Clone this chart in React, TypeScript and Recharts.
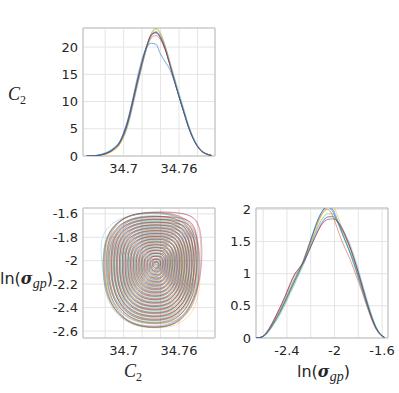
import React from 'react';
import { LineChart, Line, XAxis, YAxis, CartesianGrid, ReferenceArea } from 'recharts';

// MATLAB default colour order, one per MCMC chain
const chainColors = ['#0072BD', '#D95319', '#EDB120', '#7E2F8E', '#77AC30', '#4DBEEE', '#A2142F', '#0072BD'];

// ---- C2 marginal density (top left) ----
const c2Grid = [34.66, 34.665, 34.67, 34.675, 34.68, 34.685, 34.69, 34.695, 34.7, 34.705, 34.71, 34.715, 34.72, 34.725,
  34.73, 34.735, 34.74, 34.745, 34.75, 34.755, 34.76, 34.765, 34.77, 34.775, 34.78, 34.785, 34.79, 34.795];
const c2Chain1 = [0, 0.03, 0.08, 0.22, 0.45, 0.85, 1.5, 2.4, 4.2, 6.8, 10.3, 13.9, 17.2, 20.1, 22.2, 22.7, 21.7, 19.7, 16.8, 13.9, 10.9, 8.2, 5.5, 3.4, 1.8, 0.8, 0.35, 0.12];
const c2Chain2 = [0, 0.02, 0.05, 0.15, 0.35, 0.7, 1.3, 2.1, 3.8, 6.3, 9.8, 13.4, 16.8, 19.8, 21.7, 22.1, 21.3, 19.5, 16.9, 14.0, 11.1, 8.4, 5.7, 3.5, 1.9, 0.9, 0.4, 0.15];
const c2Chain3 = [0, 0.01, 0.04, 0.12, 0.3, 0.6, 1.1, 1.9, 3.5, 5.9, 9.4, 13.1, 16.7, 20.0, 22.6, 23.5, 22.6, 20.3, 17.3, 14.2, 11.3, 8.5, 5.7, 3.5, 1.9, 0.9, 0.4, 0.15];
const c2Chain4 = [0, 0.02, 0.06, 0.2, 0.4, 0.8, 1.4, 2.3, 4.1, 6.6, 10.1, 13.8, 17.2, 20.3, 22.3, 22.8, 21.8, 19.8, 16.9, 13.9, 10.9, 8.1, 5.4, 3.3, 1.8, 0.8, 0.35, 0.12];
const c2Chain5 = [0, 0.02, 0.05, 0.16, 0.35, 0.7, 1.2, 2.0, 3.7, 6.2, 9.7, 13.4, 16.9, 20.0, 22.4, 23.3, 22.3, 20.1, 17.1, 14.1, 11.1, 8.3, 5.6, 3.4, 1.8, 0.85, 0.35, 0.12];
const c2Chain6 = [0, 0.03, 0.1, 0.3, 0.6, 1.0, 1.6, 2.5, 3.5, 5.8, 9.2, 12.9, 16.5, 19.6, 21.9, 22.8, 22.1, 20.2, 17.4, 14.5, 11.6, 8.8, 5.9, 3.6, 2.0, 0.95, 0.4, 0.15];
const c2Chain7 = [0, 0.02, 0.06, 0.18, 0.4, 0.75, 1.35, 2.2, 3.9, 6.4, 9.9, 13.6, 17.1, 20.2, 22.2, 22.6, 21.6, 19.6, 16.8, 13.8, 10.9, 8.1, 5.4, 3.3, 1.8, 0.8, 0.35, 0.12];
const c2Chain8 = [0, 0.03, 0.08, 0.25, 0.5, 0.9, 1.5, 2.4, 4.3, 7.0, 10.6, 14.5, 17.8, 20.0, 20.7, 20.5, 18.7, 17.3, 15.9, 13.6, 10.9, 8.2, 5.5, 3.3, 1.7, 0.8, 0.3, 0.1];
const c2Chains = [c2Chain1, c2Chain2, c2Chain3, c2Chain4, c2Chain5, c2Chain6, c2Chain7, c2Chain8];

// ---- ln(sigma_gp) marginal density (bottom right) ----
const lnGrid = [-2.66, -2.62, -2.58, -2.54, -2.5, -2.46, -2.42, -2.38, -2.34, -2.3, -2.26, -2.22, -2.18, -2.14,
  -2.1, -2.06, -2.02, -1.98, -1.94, -1.9, -1.86, -1.82, -1.78, -1.74, -1.7, -1.66, -1.62, -1.58];
const lnChain1 = [0, 0.01, 0.05, 0.14, 0.26, 0.39, 0.54, 0.7, 0.86, 1.02, 1.2, 1.42, 1.64, 1.84, 1.98, 2.05, 2.01, 1.86, 1.66, 1.47, 1.27, 1.05, 0.82, 0.58, 0.36, 0.18, 0.06, 0.01];
const lnChain2 = [0, 0.01, 0.06, 0.16, 0.28, 0.42, 0.57, 0.73, 0.89, 1.05, 1.22, 1.42, 1.62, 1.8, 1.94, 2.0, 1.92, 1.72, 1.52, 1.35, 1.18, 0.98, 0.78, 0.56, 0.35, 0.17, 0.06, 0.01];
const lnChain3 = [0, 0.01, 0.05, 0.14, 0.25, 0.38, 0.52, 0.68, 0.84, 1.0, 1.16, 1.36, 1.57, 1.77, 1.94, 2.04, 2.06, 1.93, 1.72, 1.53, 1.33, 1.1, 0.86, 0.61, 0.38, 0.19, 0.07, 0.01];
const lnChain4 = [0, 0.01, 0.06, 0.17, 0.31, 0.46, 0.62, 0.8, 0.96, 1.07, 1.17, 1.33, 1.5, 1.66, 1.8, 1.88, 1.89, 1.82, 1.69, 1.54, 1.36, 1.14, 0.9, 0.64, 0.4, 0.2, 0.07, 0.01];
const lnChain5 = [0, 0.01, 0.06, 0.16, 0.29, 0.43, 0.58, 0.75, 0.91, 1.05, 1.19, 1.37, 1.56, 1.73, 1.86, 1.93, 1.93, 1.84, 1.7, 1.54, 1.36, 1.14, 0.9, 0.65, 0.41, 0.21, 0.07, 0.01];
const lnChain6 = [0, 0.01, 0.05, 0.13, 0.24, 0.36, 0.5, 0.66, 0.82, 0.98, 1.14, 1.33, 1.53, 1.7, 1.82, 1.88, 1.88, 1.82, 1.72, 1.58, 1.41, 1.19, 0.94, 0.68, 0.43, 0.22, 0.08, 0.01];
const lnChain7 = [0, 0.01, 0.07, 0.18, 0.32, 0.47, 0.63, 0.81, 0.98, 1.08, 1.18, 1.33, 1.5, 1.66, 1.78, 1.84, 1.85, 1.82, 1.72, 1.56, 1.37, 1.14, 0.89, 0.63, 0.39, 0.19, 0.07, 0.01];
const lnChain8 = [0, 0.01, 0.05, 0.15, 0.27, 0.4, 0.55, 0.71, 0.87, 1.02, 1.19, 1.4, 1.62, 1.83, 1.97, 2.04, 1.98, 1.82, 1.64, 1.47, 1.29, 1.08, 0.85, 0.61, 0.38, 0.19, 0.07, 0.01];
const lnChains = [lnChain1, lnChain2, lnChain3, lnChain4, lnChain5, lnChain6, lnChain7, lnChain8];

// ---- joint C2 / ln(sigma_gp) contours (bottom left) ----
// outermost contour of each chain, its mode, and the contour levels as fractions of the outer one
const contourLevels = [1, 0.945, 0.89, 0.835, 0.78, 0.725, 0.67, 0.615, 0.56, 0.505, 0.45, 0.395, 0.34, 0.285, 0.23, 0.175, 0.12, 0.07];
const chainLevelOffset = [0, 0.024, 0.012, 0.036, 0.006, 0.03, 0.018];
const jointCenterX = [34.735, 34.733, 34.737, 34.736, 34.734, 34.732, 34.735];
const jointCenterY = [-2.04, -2.06, -2.03, -2.02, -2.055, -2.045, -2.035];
const joint1X = [34.782, 34.781, 34.774, 34.763, 34.745, 34.722, 34.705, 34.69, 34.679, 34.677, 34.68, 34.691, 34.708, 34.729, 34.753, 34.769, 34.78];
const joint1Y = [-2.05, -1.86, -1.72, -1.63, -1.592, -1.59, -1.617, -1.69, -1.82, -2.05, -2.28, -2.44, -2.54, -2.572, -2.56, -2.45, -2.27];
const joint2X = [34.784, 34.784, 34.781, 34.77, 34.747, 34.723, 34.705, 34.691, 34.681, 34.679, 34.682, 34.692, 34.709, 34.729, 34.752, 34.768, 34.779];
const joint2Y = [-2.06, -1.85, -1.66, -1.598, -1.585, -1.588, -1.615, -1.685, -1.82, -2.05, -2.29, -2.445, -2.545, -2.575, -2.56, -2.455, -2.28];
const joint3X = [34.783, 34.782, 34.775, 34.764, 34.746, 34.723, 34.704, 34.689, 34.679, 34.678, 34.683, 34.694, 34.71, 34.731, 34.756, 34.774, 34.783];
const joint3Y = [-2.04, -1.86, -1.72, -1.625, -1.59, -1.59, -1.62, -1.695, -1.83, -2.06, -2.29, -2.455, -2.55, -2.58, -2.565, -2.47, -2.27];
const joint4X = [34.785, 34.785, 34.782, 34.771, 34.748, 34.723, 34.705, 34.692, 34.683, 34.681, 34.684, 34.693, 34.708, 34.728, 34.751, 34.768, 34.78];
const joint4Y = [-2.05, -1.84, -1.67, -1.6, -1.58, -1.585, -1.612, -1.685, -1.81, -2.04, -2.27, -2.435, -2.535, -2.565, -2.55, -2.45, -2.27];
const joint5X = [34.78, 34.779, 34.773, 34.762, 34.744, 34.721, 34.703, 34.689, 34.679, 34.677, 34.68, 34.691, 34.708, 34.729, 34.752, 34.769, 34.778];
const joint5Y = [-2.06, -1.87, -1.73, -1.635, -1.598, -1.595, -1.62, -1.695, -1.83, -2.06, -2.3, -2.455, -2.55, -2.578, -2.565, -2.46, -2.28];
const joint6X = [34.781, 34.78, 34.774, 34.763, 34.744, 34.72, 34.699, 34.682, 34.674, 34.677, 34.681, 34.691, 34.707, 34.727, 34.751, 34.768, 34.779];
const joint6Y = [-2.05, -1.86, -1.72, -1.63, -1.594, -1.596, -1.625, -1.705, -1.84, -2.05, -2.28, -2.44, -2.54, -2.572, -2.56, -2.455, -2.27];
const joint7X = [34.782, 34.782, 34.776, 34.765, 34.746, 34.722, 34.704, 34.69, 34.68, 34.678, 34.681, 34.692, 34.709, 34.729, 34.753, 34.77, 34.781];
const joint7Y = [-2.05, -1.86, -1.71, -1.622, -1.588, -1.588, -1.615, -1.687, -1.82, -2.05, -2.28, -2.445, -2.545, -2.575, -2.562, -2.46, -2.275];
const jointOuterX = [joint1X, joint2X, joint3X, joint4X, joint5X, joint6X, joint7X];
const jointOuterY = [joint1Y, joint2Y, joint3Y, joint4Y, joint5Y, joint6Y, joint7Y];

// axes
const c2Domain = [34.656, 34.799];
const c2Ticks = [34.68, 34.7, 34.72, 34.74, 34.76, 34.78];
const c2Labeled = [34.7, 34.76];
const lnDomain = [-2.66, -1.55];
const lnTicks = [-2.6, -2.4, -2.2, -2, -1.8, -1.6];
const lnLabeledBottom = [-2.4, -2, -1.6];
const c2DensityTicks = [0, 5, 10, 15, 20];
const lnDensityTicks = [0, 0.5, 1, 1.5, 2];

const tickStyle = { fontSize: 13, fill: '#262626' };
const gridColor = '#e4e4e4';
const boxColor = '#bdbdbd';

const showOnly = (list: number[]) => (v: number) => (list.some(t => Math.abs(t - v) < 1e-9) ? String(v) : '');

const C2Label: React.FC = () => (
  <span style={{ fontFamily: '"Liberation Serif", serif', fontStyle: 'italic', fontSize: 18 }}>
    C<span style={{ fontSize: 12, fontStyle: 'normal', position: 'relative', top: 4 }}>2</span>
  </span>
);

const LnSigmaLabel: React.FC = () => (
  <span style={{ fontFamily: '"DejaVu Sans", sans-serif', fontSize: 16, color: '#262626' }}>
    ln(
    <span style={{ fontFamily: '"DejaVu Serif", serif', fontWeight: 'bold', fontStyle: 'italic' }}>σ</span>
    <span style={{ fontFamily: '"Liberation Serif", serif', fontStyle: 'italic', fontSize: 14, position: 'relative', top: 4 }}>gp</span>
    )
  </span>
);

const App: React.FC = () => {
  const c2Lines = c2Chains.map((vals, k) => ({
    key: `c2-${k}`,
    color: chainColors[k],
    data: c2Grid.map((x, i) => ({ x, y: vals[i] })),
  }));
  const lnLines = lnChains.map((vals, k) => ({
    key: `ln-${k}`,
    color: chainColors[k],
    data: lnGrid.map((x, i) => ({ x, y: vals[i] })),
  }));
  const rings: { key: string; color: string; data: { x: number; y: number }[] }[] = [];
  jointOuterX.forEach((ox, k) => {
    const oy = jointOuterY[k];
    const cx = jointCenterX[k];
    const cy = jointCenterY[k];
    contourLevels.forEach((level, j) => {
      const lv = j === 0 ? level : level - chainLevelOffset[k];
      rings.push({
        key: `ring-${k}-${j}`,
        color: chainColors[k],
        data: ox.map((x, i) => ({ x: cx + lv * (x - cx), y: cy + lv * (oy[i] - cy) })),
      });
    });
  });

  return (
    <div style={{ position: 'absolute', left: 0, top: 0, width: 399, height: 393, background: '#fff', fontFamily: '"DejaVu Sans", sans-serif', color: '#262626' }}>
      {/* top left: C2 density */}
      <div style={{ position: 'absolute', left: 0, top: 0 }}>
        <LineChart width={230} height={190} margin={{ top: 28, right: 15, bottom: 4, left: 33 }}>
          <CartesianGrid stroke={gridColor} />
          <XAxis type="number" dataKey="x" domain={c2Domain} ticks={c2Ticks} interval={0} tickFormatter={showOnly(c2Labeled)}
            axisLine={false} tickLine={false} tickSize={0} tickMargin={8} height={30} tick={tickStyle} allowDataOverflow />
          <YAxis type="number" domain={[0, 23.5]} ticks={c2DensityTicks} interval={0} axisLine={false} tickLine={false}
            tickSize={0} tickMargin={5} width={50} tick={tickStyle} allowDataOverflow />
          <ReferenceArea x1={c2Domain[0]} x2={c2Domain[1]} y1={0} y2={23.5} fill="none" stroke={boxColor} />
          {c2Lines.map(l => (
            <Line key={l.key} data={l.data} dataKey="y" type="monotone" stroke={l.color} strokeWidth={0.8}
              strokeOpacity={0.7} dot={false} isAnimationActive={false} />
          ))}
        </LineChart>
      </div>

      {/* bottom left: joint contours */}
      <div style={{ position: 'absolute', left: 0, top: 180 }}>
        <LineChart width={230} height={200} margin={{ top: 28, right: 15, bottom: 12, left: 33 }}>
          <CartesianGrid stroke={gridColor} />
          <XAxis type="number" dataKey="x" domain={c2Domain} ticks={c2Ticks} interval={0} tickFormatter={showOnly(c2Labeled)}
            axisLine={false} tickLine={false} tickSize={0} tickMargin={8} height={30} tick={tickStyle} allowDataOverflow />
          <YAxis type="number" domain={lnDomain} ticks={lnTicks} interval={0} axisLine={false} tickLine={false}
            tickSize={0} tickMargin={5} width={50} tick={tickStyle} allowDataOverflow />
          <ReferenceArea x1={c2Domain[0]} x2={c2Domain[1]} y1={lnDomain[0]} y2={lnDomain[1]} fill="none" stroke={boxColor} />
          {rings.map(r => (
            <Line key={r.key} data={r.data} dataKey="y" type="basisClosed" stroke={r.color} strokeWidth={0.6}
              strokeOpacity={0.6} dot={false} isAnimationActive={false} />
          ))}
        </LineChart>
      </div>

      {/* bottom right: ln(sigma_gp) density */}
      <div style={{ position: 'absolute', left: 200, top: 180 }}>
        <LineChart width={199} height={200} margin={{ top: 28, right: 11, bottom: 12, left: 16 }}>
          <CartesianGrid stroke={gridColor} />
          <XAxis type="number" dataKey="x" domain={lnDomain} ticks={lnTicks} interval={0} tickFormatter={showOnly(lnLabeledBottom)}
            axisLine={false} tickLine={false} tickSize={0} tickMargin={8} height={30} tick={tickStyle} allowDataOverflow />
          <YAxis type="number" domain={[0, 2.02]} ticks={lnDensityTicks} interval={0} axisLine={false} tickLine={false}
            tickSize={0} tickMargin={5} width={40} tick={tickStyle} allowDataOverflow />
          <ReferenceArea x1={lnDomain[0]} x2={lnDomain[1]} y1={0} y2={2.02} fill="none" stroke={boxColor} />
          {lnLines.map(l => (
            <Line key={l.key} data={l.data} dataKey="y" type="monotone" stroke={l.color} strokeWidth={0.8}
              strokeOpacity={0.7} dot={false} isAnimationActive={false} />
          ))}
        </LineChart>
      </div>

      {/* axis labels */}
      <div style={{ position: 'absolute', left: 8, top: 85, lineHeight: 1, whiteSpace: 'nowrap' }}><C2Label /></div>
      <div style={{ position: 'absolute', left: 0, top: 271, lineHeight: 1, whiteSpace: 'nowrap' }}><LnSigmaLabel /></div>
      <div style={{ position: 'absolute', left: 124, top: 362, lineHeight: 1, whiteSpace: 'nowrap' }}><C2Label /></div>
      <div style={{ position: 'absolute', left: 297, top: 364, lineHeight: 1, whiteSpace: 'nowrap' }}><LnSigmaLabel /></div>
    </div>
  );
};

export default App;
